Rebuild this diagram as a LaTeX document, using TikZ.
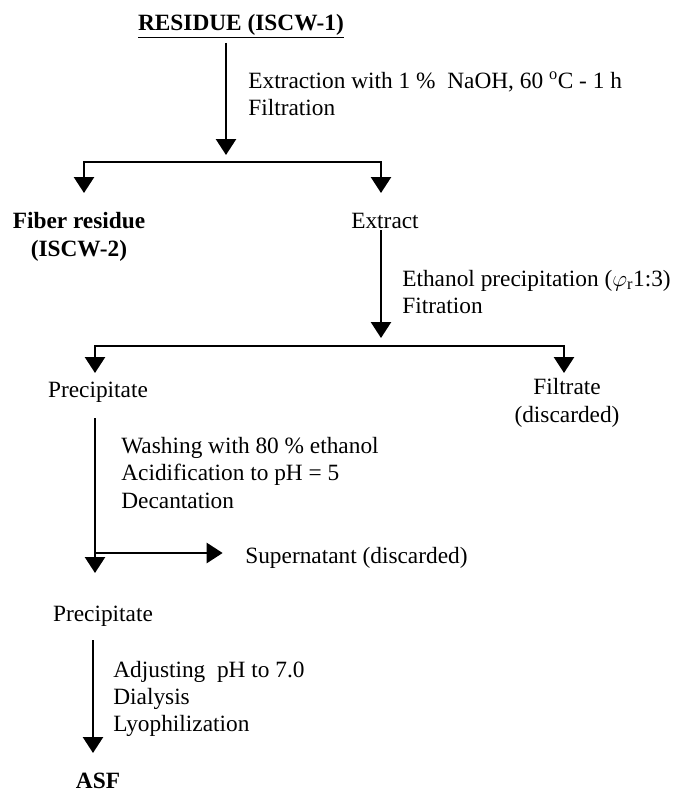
\documentclass[tikz,border=0pt]{standalone}
\usepackage{fontspec}
\setmainfont{Liberation Serif}
\usetikzlibrary{arrows.meta}

\tikzset{every picture/.style={line width=2pt}}
\tikzset{
  flowtext/.style={inner sep=0pt, font=\fontsize{17.5pt}{20.5pt}\selectfont},
  flowbold/.style={inner sep=0pt, font=\fontsize{17.5pt}{20.5pt}\selectfont\bfseries},
  steplabel/.style={flowtext, anchor=west, align=left},
  flowarrow/.style={-{Triangle[width=15pt,length=12pt]}},
  splitarrow/.style={{Triangle[width=15pt,length=12pt]}-{Triangle[width=15pt,length=12pt]}},
}

\begin{document}
\begin{tikzpicture}[x=0.75pt,y=0.75pt,yscale=-1,xscale=1]
        \useasboundingbox (0,0) rectangle (677,792);

        % Text Node
        \node[flowbold] (residue) at (241,26) {\underline{RESIDUE (ISCW-1)}};
        %Straight Lines
        \coordinate (s1) at (226,43);
        \coordinate (t1) at (226,155);
        \draw[flowarrow] (s1) -- (t1);
        % Text Node
        \node[steplabel] (naoh) at (247,94) {Extraction with 1 \%\ \ NaOH, 60 \textsuperscript{o}C - 1 h\\Filtration};

        %Split Lines
        \coordinate (j1l) at (84,193);
        \coordinate (j1r) at (381,193);
        \draw[splitarrow] (j1l) -- ++(0,-31) -| (j1r);
        % Text Node
        \node[flowbold, align=center] (fiber) at (79,237) {Fiber residue\\(ISCW-2)};
        % Text Node
        \node[flowtext] (extract) at (385,221) {Extract};

        %Straight Lines
        \coordinate (t2) at (381,338);
        \draw[flowarrow] (extract.south -| t2) -- (t2);
        % Text Node
        \node[steplabel] (ethanol) at (401,292) {Ethanol precipitation ($\varphi_{\mathrm{r}}$1:3)\\Fitration};

        %Split Lines
        \coordinate (j2l) at (95,373);
        \coordinate (j2r) at (564,373);
        \draw[splitarrow] (j2l) -- ++(0,-27) -| (j2r);
        % Text Node
        \node[flowtext] (prec1) at (98,392) {Precipitate};
        % Text Node
        \node[flowtext, align=center] (filtrate) at (567,403) {Filtrate\\(discarded)};

        %Straight Lines
        \coordinate (s3) at (95,418);
        \coordinate (t3) at (95,573);
        \draw[flowarrow] (s3) -- (t3);
        % Text Node
        \node[steplabel] (wash) at (120,473) {Washing with 80 \% ethanol\\Acidification to pH = 5\\Decantation};
        % Text Node
        \node[flowtext, anchor=west] (super) at (244,558) {Supernatant (discarded)};
        %Straight Lines
        \coordinate (j3) at (95,553);
        \draw[flowarrow, shorten >=16pt] (j3) -- (j3 -| super.west);

        % Text Node
        \node[flowtext] (prec2) at (103,616) {Precipitate};
        %Straight Lines
        \coordinate (s4) at (93,640);
        \coordinate (t4) at (93,753);
        \draw[flowarrow] (s4) -- (t4);
        % Text Node
        \node[steplabel] (adjust) at (112,699) {Adjusting\ \ pH to 7.0\\Dialysis\\Lyophilization};
        % Text Node
        \node[flowbold] (asf) at (98,781) {ASF};

\end{tikzpicture}
\end{document}
